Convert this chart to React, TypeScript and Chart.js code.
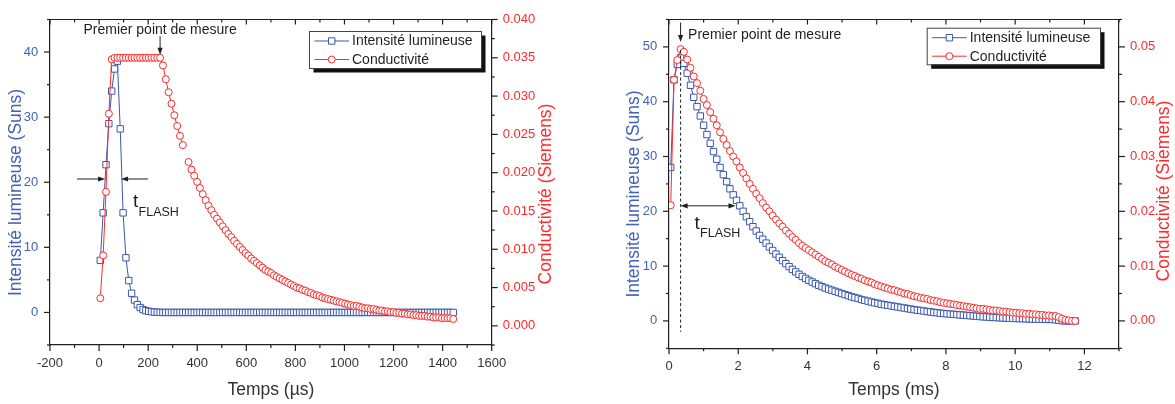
import React, { useEffect, useRef } from 'react';
import { Chart, registerables } from 'chart.js';

Chart.register(...registerables);

const FONT = '"Liberation Sans", Arial, Helvetica, sans-serif';
const BLUE = '#3a58ad';
const BLUE_TEXT = '#4262b6';
const RED = '#ff2a2a';
const INK = '#1f1f1f';
const GREY_TEXT = '#333333';

// ---------- texts ----------
const SERIES_NAMES = ['Intensité lumineuse', 'Conductivité'];
const Y_TITLE = 'Intensité lumineuse (Suns)';
const Y1_TITLE = 'Conductivité (Siemens)';
const X_TITLE_US = 'Temps (µs)';
const X_TITLE_MS = 'Temps (ms)';
const NOTE_FIRST = 'Premier point de mesure';
const FLASH_T = 't';
const FLASH_SUB = 'FLASH';

// ---------- left panel (µs) ----------
const US_TIME = [
  5, 16.6, 28.2, 39.8, 51.4, 63, 74.6, 86.2, 97.8, 109.4,
  121, 132.6, 144.2, 155.8, 167.4, 179, 190.6, 202.2, 213.8, 225.4,
  237, 248.6, 260.2, 271.8, 283.4, 295, 306.6, 318.2, 329.8, 341.4,
  353, 364.6, 376.2, 387.8, 399.4, 411, 422.6, 434.2, 445.8, 457.4,
  469, 480.6, 492.2, 503.8, 515.4, 527, 538.6, 550.2, 561.8, 573.4,
  585, 596.6, 608.2, 619.8, 631.4, 643, 654.6, 666.2, 677.8, 689.4,
  701, 712.6, 724.2, 735.8, 747.4, 759, 770.6, 782.2, 793.8, 805.4,
  817, 828.6, 840.2, 851.8, 863.4, 875, 886.6, 898.2, 909.8, 921.4,
  933, 944.6, 956.2, 967.8, 979.4, 991, 1002.6, 1014.2, 1025.8, 1037.4,
  1049, 1060.6, 1072.2, 1083.8, 1095.4, 1107, 1118.6, 1130.2, 1141.8, 1153.4,
  1165, 1176.6, 1188.2, 1199.8, 1211.4, 1223, 1234.6, 1246.2, 1257.8, 1269.4,
  1281, 1292.6, 1304.2, 1315.8, 1327.4, 1339, 1350.6, 1362.2, 1373.8, 1385.4,
  1397, 1408.6, 1420.2, 1431.8, 1443.4,
];
const US_INTENSITY = [
  8.0, 15.3, 22.7, 29.0, 34.0, 37.4, 38.6, 28.2, 15.3, 8.4,
  4.9, 2.95, 1.9, 1.2, 0.75, 0.45, 0.28, 0.17, 0.1, 0.06,
  0.03, 0.01,
  0, 0, 0, 0, 0, 0, 0, 0, 0, 0,
  0, 0, 0, 0, 0, 0, 0, 0, 0, 0,
  0, 0, 0, 0, 0, 0, 0, 0, 0, 0,
  0, 0, 0, 0, 0, 0, 0, 0, 0, 0,
  0, 0, 0, 0, 0, 0, 0, 0, 0, 0,
  0, 0, 0, 0, 0, 0, 0, 0, 0, 0,
  0, 0, 0, 0, 0, 0, 0, 0, 0, 0,
  0, 0, 0, 0, 0, 0, 0, 0, 0, 0,
  0, 0, 0, 0, 0, 0, 0, 0, 0, 0,
  0, 0, 0, 0, 0, 0, 0, 0, 0, 0,
  0, 0, 0,
];
const US_CONDUCTIVITY: (number | null)[] = [
  0.0036, 0.0092, 0.0175, 0.0277, 0.0348,
  0.035, 0.035, 0.035, 0.035, 0.035, 0.035, 0.035, 0.035, 0.035, 0.035,
  0.035, 0.035, 0.035, 0.035, 0.035, 0.035, 0.035,
  0.0340, 0.0322, 0.0305, 0.0290, 0.0275, 0.0261, 0.0248, 0.0236,
  null,
  0.0214, 0.0204, 0.0196, 0.0188, 0.0180, 0.0172, 0.0164, 0.0157,
  0.0151, 0.0145, 0.0140, 0.0135, 0.0130, 0.0125, 0.0120, 0.0116, 0.0111, 0.0107,
  0.0103, 0.0099, 0.0095, 0.0092, 0.0088, 0.0085, 0.0082, 0.0079, 0.0076, 0.0073,
  0.0071, 0.0069, 0.0066, 0.0064, 0.0062, 0.0060, 0.0058, 0.0056, 0.0054, 0.0052,
  0.0050, 0.0049, 0.0047, 0.0046, 0.0044, 0.0043, 0.0041, 0.0040, 0.0039, 0.0037,
  0.0036, 0.0035, 0.0034, 0.0033, 0.0032, 0.0031, 0.0030, 0.0029, 0.0028, 0.0027,
  0.0026, 0.0026, 0.0025, 0.0024, 0.0023, 0.0023, 0.0022, 0.0022, 0.0021, 0.0020,
  0.0020, 0.0019, 0.0019, 0.0018, 0.0018, 0.0017, 0.0017, 0.0016, 0.0016, 0.0015,
  0.0015, 0.0014, 0.0014, 0.0013, 0.0013, 0.0013, 0.0012, 0.0012, 0.0011, 0.0011,
  0.0011, 0.0010, 0.0010, 0.0010, 0.0010, 0.0009,
];
const US_X_TICKS = [-200, 0, 200, 400, 600, 800, 1000, 1200, 1400, 1600];
const US_Y_TICKS = [0, 10, 20, 30, 40];
const US_Y1_TICKS = [0, 0.005, 0.01, 0.015, 0.02, 0.025, 0.03, 0.035, 0.04];
const US_FIRST_POINT = 248.6;
const US_PLATEAU = 0.035;
const US_FLASH = [24.5, 89.6];
const US_FLASH_LEVEL = 20.5;

// ---------- right panel (ms) ----------
const MS_TIME = [
  0.05, 0.145, 0.24, 0.335, 0.43, 0.525, 0.62, 0.715, 0.81, 0.905,
  1.0, 1.095, 1.19, 1.285, 1.38, 1.475, 1.57, 1.665, 1.76, 1.855,
  1.95, 2.045, 2.14, 2.235, 2.33, 2.425, 2.52, 2.615, 2.71, 2.805,
  2.9, 2.995, 3.09, 3.185, 3.28, 3.375, 3.47, 3.565, 3.66, 3.755,
  3.85, 3.945, 4.04, 4.135, 4.23, 4.325, 4.42, 4.515, 4.61, 4.705,
  4.8, 4.895, 4.99, 5.085, 5.18, 5.275, 5.37, 5.465, 5.56, 5.655,
  5.75, 5.845, 5.94, 6.035, 6.13, 6.225, 6.32, 6.415, 6.51, 6.605,
  6.7, 6.795, 6.89, 6.985, 7.08, 7.175, 7.27, 7.365, 7.46, 7.555,
  7.65, 7.745, 7.84, 7.935, 8.03, 8.125, 8.22, 8.315, 8.41, 8.505,
  8.6, 8.695, 8.79, 8.885, 8.98, 9.075, 9.17, 9.265, 9.36, 9.455,
  9.55, 9.645, 9.74, 9.835, 9.93, 10.025, 10.12, 10.215, 10.31, 10.405,
  10.5, 10.595, 10.69, 10.785, 10.88, 10.975, 11.07, 11.165, 11.26, 11.355,
  11.45, 11.545, 11.64, 11.735,
];
const MS_INTENSITY = [
  28.0, 44.0, 46.8, 48.0, 47.0, 45.2, 43.0, 40.8, 39.1, 37.4,
  35.7, 34.0, 32.4, 30.9, 29.5, 28.0, 26.7, 25.4, 24.1, 23.0,
  22.0, 21.0, 20.0, 19.0, 18.1, 17.2, 16.4, 15.6, 14.9, 14.2,
  13.5, 12.85, 12.2, 11.6, 11.0, 10.45, 9.9, 9.4, 8.95, 8.5,
  8.1, 7.75, 7.4, 7.1, 6.8, 6.5, 6.25, 6.0, 5.8, 5.6,
  5.4, 5.2, 5.0, 4.8, 4.6, 4.4, 4.25, 4.1, 3.9, 3.75,
  3.6, 3.45, 3.3, 3.2, 3.05, 2.95, 2.85, 2.75, 2.65, 2.55,
  2.45, 2.35, 2.25, 2.15, 2.05, 1.95, 1.9, 1.8, 1.7, 1.65,
  1.55, 1.5, 1.4, 1.35, 1.3, 1.25, 1.2, 1.15, 1.1, 1.05,
  1.0, 0.95, 0.9, 0.85, 0.8, 0.75, 0.72, 0.68, 0.64, 0.6,
  0.57, 0.54, 0.51, 0.48, 0.46, 0.44, 0.42, 0.4, 0.38, 0.36,
  0.34, 0.32, 0.3, 0.29, 0.28, 0.27, 0.26, 0.22, 0.12, 0.04,
  0, 0, 0, 0,
];
const MS_CONDUCTIVITY = [
  0.0211, 0.0440, 0.0476, 0.0496, 0.0491, 0.0477, 0.0462, 0.0446, 0.0434, 0.0420,
  0.0405, 0.0394, 0.0381, 0.0369, 0.0357, 0.0344, 0.0332, 0.0321, 0.0310, 0.0300,
  0.0291, 0.0280, 0.0270, 0.0260, 0.0250, 0.0241, 0.0232, 0.0224, 0.0215, 0.0207,
  0.0200, 0.0192, 0.0185, 0.0178, 0.0172, 0.0165, 0.0159, 0.0153, 0.0148, 0.0142,
  0.0137, 0.0133, 0.0129, 0.0125, 0.0121, 0.0117, 0.0113, 0.0109, 0.0106, 0.0103,
  0.0099, 0.0096, 0.0093, 0.0090, 0.0087, 0.0084, 0.0082, 0.0079, 0.0077, 0.0074,
  0.0072, 0.0070, 0.0067, 0.0065, 0.0063, 0.0061, 0.0059, 0.0057, 0.0056, 0.0054,
  0.0052, 0.0050, 0.0049, 0.0047, 0.0045, 0.0044, 0.0042, 0.0041, 0.0040, 0.0038,
  0.0037, 0.0036, 0.0034, 0.0033, 0.0032, 0.0031, 0.0030, 0.0029, 0.0028, 0.0027,
  0.0026, 0.0025, 0.0024, 0.0023, 0.0022, 0.0022, 0.0021, 0.0020, 0.0019, 0.0019,
  0.0018, 0.0017, 0.0017, 0.0016, 0.0015, 0.0015, 0.0014, 0.0014, 0.0013, 0.0013,
  0.0012, 0.0012, 0.0011, 0.0011, 0.0010, 0.0010, 0.0009, 0.0009, 0.0007, 0.0004,
  0.0002, 0.0001, 0, 0,
];
const MS_X_TICKS = [0, 2, 4, 6, 8, 10, 12];
const MS_Y_TICKS = [0, 10, 20, 30, 40, 50];
const MS_Y1_TICKS = [0, 0.01, 0.02, 0.03, 0.04, 0.05];
const MS_FIRST_POINT = 0.335;
const MS_FIRST_VALUE = 0.0496;
const MS_FLASH_END = 1.92;
const MS_FLASH_LEVEL = 21;

// ---------- drawing helpers ----------
type Ctx = CanvasRenderingContext2D;

function seg(ctx: Ctx, x1: number, y1: number, x2: number, y2: number) {
  ctx.beginPath();
  ctx.moveTo(x1, y1);
  ctx.lineTo(x2, y2);
  ctx.stroke();
}

function head(ctx: Ctx, x: number, y: number, dx: number, dy: number) {
  const L = 7, W = 2.6;
  const bx = x - dx * L, by = y - dy * L;
  ctx.beginPath();
  ctx.moveTo(x, y);
  ctx.lineTo(bx - dy * W, by + dx * W);
  ctx.lineTo(bx + dy * W, by - dx * W);
  ctx.closePath();
  ctx.fill();
}

function vText(ctx: Ctx, text: string, x: number, y: number, color: string) {
  ctx.save();
  ctx.translate(x, y);
  ctx.rotate(-Math.PI / 2);
  ctx.textAlign = 'center';
  ctx.textBaseline = 'middle';
  ctx.fillStyle = color;
  ctx.font = `17.5px ${FONT}`;
  ctx.fillText(text, 0, 0);
  ctx.restore();
}

function marker(ctx: Ctx, style: string, x: number, y: number, color: string) {
  ctx.save();
  ctx.fillStyle = '#ffffff';
  ctx.strokeStyle = color;
  ctx.lineWidth = 1;
  ctx.beginPath();
  if (style === 'rect') {
    const s = 3.2;
    ctx.rect(x - s, y - s, 2 * s, 2 * s);
  } else {
    ctx.arc(x, y, 3.5, 0, Math.PI * 2);
  }
  ctx.fill();
  ctx.stroke();
  ctx.restore();
}

interface Panel {
  left: number;
  width: number;
  height: number;
  area: { left: number; right: number; top: number; bottom: number };
  time: number[];
  intensity: (number | null)[];
  conductivity: (number | null)[];
  x: [number, number];
  y: [number, number];
  y1: [number, number];
  xTicks: number[];
  yTicks: number[];
  y1Ticks: number[];
  y1Decimals: number;
  xTitle: string;
  yTitlePos: [number, number];
  y1TitlePos: [number, number];
  legend: { x: number; y: number; w: number; h: number };
  annotate: (chart: any, ctx: Ctx) => void;
}

function minorValues(ticks: number[], min: number, max: number) {
  const step = ticks[1] - ticks[0];
  const out: number[] = [];
  const cand = [ticks[0] - step / 2, ...ticks.map((v) => v + step / 2)];
  const eps = step * 1e-6;
  cand.forEach((v) => {
    if (v >= min - eps && v <= max + eps) out.push(v);
  });
  return out;
}

function framePlugin(p: Panel) {
  return {
    id: 'frameAndNotes',
    afterDraw(chart: any) {
      const ctx: Ctx = chart.ctx;
      const a = chart.chartArea;
      const sx = chart.scales.x, sy = chart.scales.y, sy1 = chart.scales.y1;
      ctx.save();
      ctx.strokeStyle = INK;
      ctx.lineWidth = 1.2;
      // top frame line
      seg(ctx, a.left - 0.6, a.top, a.right + 0.6, a.top);
      const MAJ = 6, MIN = 3;
      p.xTicks.forEach((v) => {
        const px = sx.getPixelForValue(v);
        seg(ctx, px, a.bottom, px, a.bottom + MAJ);
        seg(ctx, px, a.top, px, a.top + MAJ - 1);
      });
      minorValues(p.xTicks, p.x[0], p.x[1]).forEach((v) => {
        const px = sx.getPixelForValue(v);
        seg(ctx, px, a.bottom, px, a.bottom + MIN);
        seg(ctx, px, a.top, px, a.top + MIN);
      });
      p.yTicks.forEach((v) => {
        const py = sy.getPixelForValue(v);
        seg(ctx, a.left, py, a.left - MAJ, py);
      });
      minorValues(p.yTicks, p.y[0], p.y[1]).forEach((v) => {
        const py = sy.getPixelForValue(v);
        seg(ctx, a.left, py, a.left - MIN, py);
      });
      p.y1Ticks.forEach((v) => {
        const py = sy1.getPixelForValue(v);
        seg(ctx, a.right, py, a.right + MAJ, py);
      });
      minorValues(p.y1Ticks, p.y1[0], p.y1[1]).forEach((v) => {
        const py = sy1.getPixelForValue(v);
        seg(ctx, a.right, py, a.right + MIN, py);
      });
      ctx.restore();

      // vertical axis titles
      vText(ctx, Y_TITLE, p.yTitlePos[0], p.yTitlePos[1], BLUE_TEXT);
      vText(ctx, Y1_TITLE, p.y1TitlePos[0], p.y1TitlePos[1], RED);

      // legend
      const L = p.legend;
      ctx.save();
      ctx.fillStyle = '#111111';
      ctx.fillRect(L.x + 4.5, L.y + 4.5, L.w, L.h);
      ctx.fillStyle = '#ffffff';
      ctx.fillRect(L.x, L.y, L.w, L.h);
      ctx.strokeStyle = '#444444';
      ctx.lineWidth = 1;
      ctx.strokeRect(L.x + 0.5, L.y + 0.5, L.w, L.h);
      const rows = [
        { name: SERIES_NAMES[0], color: BLUE, style: 'rect', dy: 10 },
        { name: SERIES_NAMES[1], color: RED, style: 'circle', dy: 28.5 },
      ];
      rows.forEach((r) => {
        const yy = L.y + r.dy;
        ctx.strokeStyle = r.color;
        ctx.lineWidth = 1;
        seg(ctx, L.x + 5.5, yy, L.x + 40, yy);
        marker(ctx, r.style, L.x + 22.7, yy, r.color);
        ctx.fillStyle = INK;
        ctx.font = `14px ${FONT}`;
        ctx.textAlign = 'left';
        ctx.textBaseline = 'middle';
        ctx.fillText(r.name, L.x + 43, yy + 0.5);
      });
      ctx.restore();

      ctx.save();
      p.annotate(chart, ctx);
      ctx.restore();
    },
  };
}

function makeConfig(p: Panel) {
  const pts = (vals: (number | null)[]) => p.time.map((t, i) => ({ x: t, y: vals[i] }));
  const tickFont = { family: FONT, size: 13 };
  const border = { display: true, color: INK, width: 1.2 };
  const grid = { display: false, drawTicks: false };
  return {
    type: 'line',
    data: {
      datasets: [
        {
          label: SERIES_NAMES[0],
          data: pts(p.intensity),
          yAxisID: 'y',
          order: 1,
          borderColor: BLUE,
          borderWidth: 1,
          pointStyle: 'rect',
          pointRadius: 4.5,
          pointBorderWidth: 1,
          pointBorderColor: BLUE,
          pointBackgroundColor: '#ffffff',
          tension: 0,
          spanGaps: false,
        },
        {
          label: SERIES_NAMES[1],
          data: pts(p.conductivity),
          yAxisID: 'y1',
          order: 0,
          borderColor: RED,
          borderWidth: 1,
          pointStyle: 'circle',
          pointRadius: 3.5,
          pointBorderWidth: 1,
          pointBorderColor: RED,
          pointBackgroundColor: '#ffffff',
          tension: 0,
          spanGaps: false,
        },
      ],
    },
    options: {
      responsive: false,
      maintainAspectRatio: false,
      animation: false,
      devicePixelRatio: 1,
      events: [],
      layout: { padding: { top: p.area.top, left: 0, right: 0, bottom: 0 } },
      plugins: { legend: { display: false }, tooltip: { enabled: false }, title: { display: false } },
      scales: {
        x: {
          type: 'linear',
          position: 'bottom',
          min: p.x[0],
          max: p.x[1],
          bounds: 'data',
          afterBuildTicks: (s: any) => {
            s.ticks = p.xTicks.map((v) => ({ value: v }));
          },
          afterFit: (s: any) => {
            s.height = p.height - p.area.bottom;
          },
          grid,
          border,
          ticks: {
            color: GREY_TEXT,
            font: tickFont,
            padding: 10.5,
            maxRotation: 0,
            autoSkip: false,
            callback: (v: any) => String(v),
          },
          title: {
            display: true,
            text: p.xTitle,
            color: GREY_TEXT,
            font: { family: FONT, size: 17.5 },
            padding: { top: 0, bottom: 3 },
          },
        },
        y: {
          type: 'linear',
          position: 'left',
          min: p.y[0],
          max: p.y[1],
          bounds: 'data',
          afterBuildTicks: (s: any) => {
            s.ticks = p.yTicks.map((v) => ({ value: v }));
          },
          afterFit: (s: any) => {
            s.width = p.area.left;
          },
          grid,
          border,
          ticks: {
            color: BLUE_TEXT,
            font: tickFont,
            padding: 11.7,
            autoSkip: false,
            callback: (v: any) => String(v),
          },
        },
        y1: {
          type: 'linear',
          position: 'right',
          min: p.y1[0],
          max: p.y1[1],
          bounds: 'data',
          afterBuildTicks: (s: any) => {
            s.ticks = p.y1Ticks.map((v) => ({ value: v }));
          },
          afterFit: (s: any) => {
            s.width = p.width - p.area.right;
          },
          grid,
          border,
          ticks: {
            color: RED,
            font: tickFont,
            padding: 11,
            autoSkip: false,
            callback: (v: any) => Number(v).toFixed(p.y1Decimals),
          },
        },
      },
    },
    plugins: [framePlugin(p)],
  };
}

const US_PANEL: Panel = {
  left: 0,
  width: 590,
  height: 404,
  area: { left: 50, right: 491.7, top: 15, bottom: 345 },
  time: US_TIME,
  intensity: US_INTENSITY,
  conductivity: US_CONDUCTIVITY,
  x: [-200, 1600],
  y: [-5, 45],
  y1: [-0.0025, 0.04],
  xTicks: US_X_TICKS,
  yTicks: US_Y_TICKS,
  y1Ticks: US_Y1_TICKS,
  y1Decimals: 3,
  xTitle: X_TITLE_US,
  yTitlePos: [16, 192.5],
  y1TitlePos: [546.5, 194],
  legend: { x: 309, y: 31, w: 172, h: 37 },
  annotate: (chart, ctx) => {
    const sx = chart.scales.x, sy = chart.scales.y, sy1 = chart.scales.y1;
    ctx.fillStyle = INK;
    ctx.strokeStyle = INK;
    ctx.lineWidth = 1;
    const fx = sx.getPixelForValue(US_FIRST_POINT);
    const tip = sy1.getPixelForValue(US_PLATEAU) - 3;
    seg(ctx, fx, tip - 18.5, fx, tip - 5);
    head(ctx, fx, tip, 0, 1);
    ctx.font = `14px ${FONT}`;
    ctx.textAlign = 'center';
    ctx.textBaseline = 'middle';
    ctx.fillText(NOTE_FIRST, fx, tip - 24.5);

    const yA = sy.getPixelForValue(US_FLASH_LEVEL);
    const xa = sx.getPixelForValue(US_FLASH[0]);
    const xb = sx.getPixelForValue(US_FLASH[1]);
    seg(ctx, xa - 28, yA, xa - 5, yA);
    head(ctx, xa, yA, 1, 0);
    seg(ctx, xb + 27, yA, xb + 5, yA);
    head(ctx, xb, yA, -1, 0);
    ctx.textAlign = 'left';
    ctx.textBaseline = 'alphabetic';
    ctx.font = `19px ${FONT}`;
    ctx.fillText(FLASH_T, xb + 12, yA + 28);
    ctx.font = `12.5px ${FONT}`;
    ctx.fillText(FLASH_SUB, xb + 17.5, yA + 37);
  },
};

const MS_PANEL: Panel = {
  left: 590,
  width: 585,
  height: 404,
  area: { left: 79, right: 529, top: 15.7, bottom: 348.3 },
  time: MS_TIME,
  intensity: MS_INTENSITY,
  conductivity: MS_CONDUCTIVITY,
  x: [0, 13],
  y: [-5, 55],
  y1: [-0.005, 0.055],
  xTicks: MS_X_TICKS,
  yTicks: MS_Y_TICKS,
  y1Ticks: MS_Y1_TICKS,
  y1Decimals: 2,
  xTitle: X_TITLE_MS,
  yTitlePos: [44, 194],
  y1TitlePos: [574.5, 191],
  legend: { x: 336.7, y: 27.7, w: 173.3, h: 36.6 },
  annotate: (chart, ctx) => {
    const sx = chart.scales.x, sy = chart.scales.y, sy1 = chart.scales.y1;
    ctx.fillStyle = INK;
    ctx.strokeStyle = INK;
    ctx.lineWidth = 1;
    const fx = sx.getPixelForValue(MS_FIRST_POINT);
    const tip = sy1.getPixelForValue(MS_FIRST_VALUE) - 7;
    seg(ctx, fx, tip - 19.5, fx, tip - 5);
    head(ctx, fx, tip, 0, 1);
    ctx.font = `14px ${FONT}`;
    ctx.textAlign = 'left';
    ctx.textBaseline = 'middle';
    ctx.fillText(NOTE_FIRST, fx + 7.5, tip - 6.5);

    ctx.save();
    ctx.setLineDash([3, 2.5]);
    seg(ctx, fx, tip + 8, fx, sy.getPixelForValue(-2));
    ctx.restore();

    const yA = sy.getPixelForValue(MS_FLASH_LEVEL);
    const xb = sx.getPixelForValue(MS_FLASH_END);
    seg(ctx, fx + 5, yA, xb - 5, yA);
    head(ctx, fx, yA, -1, 0);
    head(ctx, xb, yA, 1, 0);
    ctx.textAlign = 'left';
    ctx.textBaseline = 'alphabetic';
    ctx.font = `19px ${FONT}`;
    ctx.fillText(FLASH_T, fx + 14, yA + 23);
    ctx.font = `12.5px ${FONT}`;
    ctx.fillText(FLASH_SUB, fx + 19.5, yA + 31);
  },
};

function PanelChart({ panel }: { panel: Panel }) {
  const ref = useRef<HTMLCanvasElement>(null);
  useEffect(() => {
    if (!ref.current) return;
    const chart = new Chart(ref.current, makeConfig(panel) as any);
    return () => chart.destroy();
  }, [panel]);
  return (
    <canvas
      ref={ref}
      width={panel.width}
      height={panel.height}
      style={{ position: 'absolute', left: panel.left, top: 0, width: panel.width, height: panel.height }}
    />
  );
}

export default function App() {
  return (
    <div style={{ position: 'absolute', left: 0, top: 0, width: 1175, height: 404, background: '#ffffff', overflow: 'hidden' }}>
      <PanelChart panel={US_PANEL} />
      <PanelChart panel={MS_PANEL} />
    </div>
  );
}
